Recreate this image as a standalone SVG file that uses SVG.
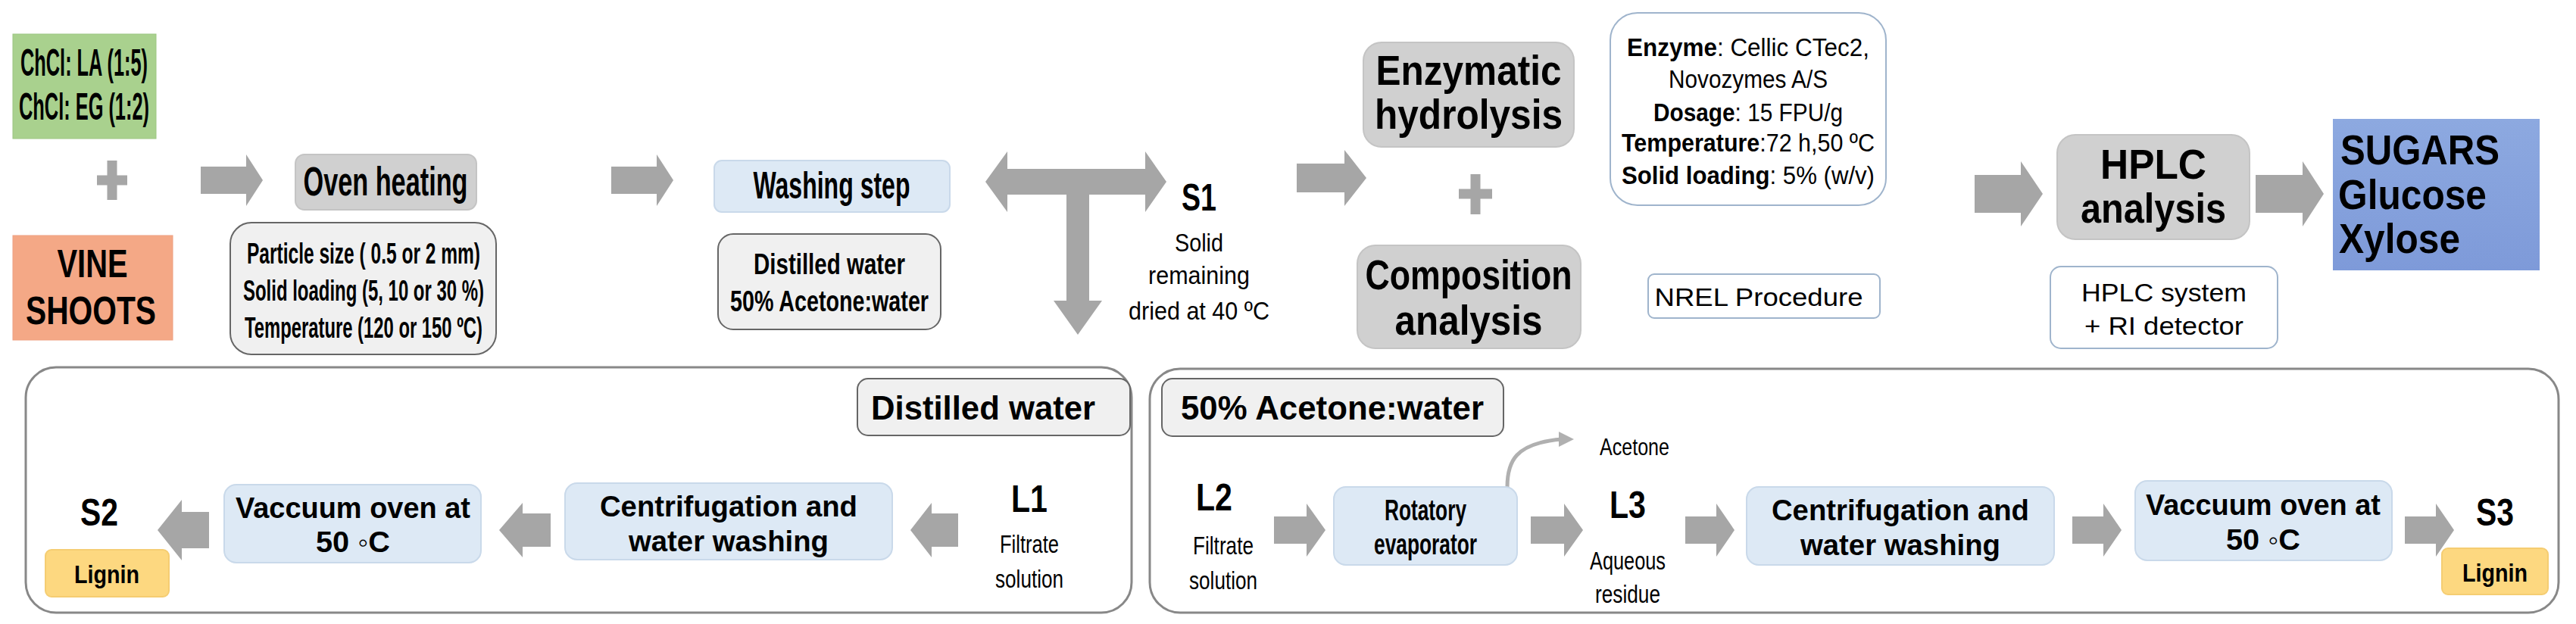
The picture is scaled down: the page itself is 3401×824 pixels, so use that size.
<svg xmlns="http://www.w3.org/2000/svg" width="3401" height="824" viewBox="0 0 3401 824">
<style>
text{font-family:"Liberation Sans",Arial,sans-serif;fill:#000;text-anchor:middle}
.b{font-weight:bold}
.gray{fill:#d0d0d0;stroke:#c4c4c4;stroke-width:2}
.lgray{fill:#f0f0f0;stroke:#666;stroke-width:2}
.blue{fill:#dde9f5;stroke:#c9d9ea;stroke-width:2}
.wht{fill:#fff;stroke:#9fb4cc;stroke-width:2}
.arr{fill:#a6a6a6}
.cont{fill:#fff;stroke:#888;stroke-width:3}
.lig{fill:#fdd880;stroke:#f5cd72;stroke-width:2}
</style>
<rect width="3401" height="824" fill="#fff"/>
<g id="containers">
<rect class="cont" x="34" y="485" width="1460" height="324" rx="40"/>
<rect class="cont" x="1518" y="487" width="1860" height="322" rx="40"/>
</g>
<g id="connectors">
<path d="M148 212 V264 M128 238 H168" stroke="#a6a6a6" stroke-width="13"/>
<polygon class="arr" points="265,220 325,220 325,204 347,238 325,272 325,256 265,256"/>
<polygon class="arr" points="807,220 867,220 867,204 889,238 867,272 867,256 807,256"/>
<polygon class="arr" points="1301,240 1330,200 1330,223 1512,223 1512,200 1540,240 1512,280 1512,257 1438,257 1438,397 1455,397 1423,442 1391,397 1408,397 1408,257 1330,257 1330,280"/>
<polygon class="arr" points="1712,216 1775,216 1775,198 1804,235 1775,272 1775,254 1712,254"/>
<path d="M1948 230 V283 M1926 256 H1970" stroke="#a6a6a6" stroke-width="13"/>
<polygon class="arr" points="2607,231 2668,231 2668,213 2697,256 2668,299 2668,281 2607,281"/>
<polygon class="arr" points="2978,231 3040,231 3040,213 3068,256 3040,299 3040,281 2978,281"/>
<polygon class="arr" points="1265,678 1230,678 1230,664 1202,700 1230,736 1230,722 1265,722"/>
<polygon class="arr" points="727,678 690,678 690,664 659,700 690,736 690,722 727,722"/>
<polygon class="arr" points="276,676 240,676 240,660 208,700 240,740 240,724 276,724"/>
<polygon class="arr" points="1682,682 1725,682 1725,665 1750,700 1725,735 1725,718 1682,718"/>
<polygon class="arr" points="2021,682 2065,682 2065,665 2090,700 2065,735 2065,718 2021,718"/>
<polygon class="arr" points="2225,682 2266,682 2266,665 2290,700 2266,735 2266,718 2225,718"/>
<polygon class="arr" points="2736,682 2777,682 2777,665 2801,700 2777,735 2777,718 2736,718"/>
<polygon class="arr" points="3175,682 3216,682 3216,665 3240,700 3216,735 3216,718 3175,718"/>
<path d="M1990 643 C1990 610 2000 585 2062 580" fill="none" stroke="#b0b0b0" stroke-width="5"/>
<polygon points="2058,570 2078,580 2058,590" fill="#b0b0b0"/>
</g>
<g id="des">
<rect x="17" y="45" width="189" height="138" fill="#a9d18e" stroke="#9cc682"/>
<text class="b" x="111" y="100" font-size="50" textLength="168" lengthAdjust="spacingAndGlyphs">ChCl: LA (1:5)</text>
<text class="b" x="111" y="158" font-size="50" textLength="172" lengthAdjust="spacingAndGlyphs">ChCl: EG (1:2)</text>
</g>
<g id="vine">
<rect x="17" y="311" width="211" height="138" fill="#f4a886" stroke="#eea081"/>
<text class="b" x="122" y="366" font-size="52" textLength="93" lengthAdjust="spacingAndGlyphs">VINE</text>
<text class="b" x="120" y="428" font-size="52" textLength="172" lengthAdjust="spacingAndGlyphs">SHOOTS</text>
</g>
<g id="oven">
<rect class="gray" x="390" y="204" width="239" height="73" rx="12"/>
<text class="b" x="509" y="258" font-size="54" textLength="217" lengthAdjust="spacingAndGlyphs">Oven heating</text>
</g>
<g id="oven-params">
<rect class="lgray" x="304" y="294" width="351" height="174" rx="28"/>
<text class="b" x="480" y="348" font-size="38" textLength="308" lengthAdjust="spacingAndGlyphs">Particle size ( 0.5 or 2 mm)</text>
<text class="b" x="480" y="397" font-size="38" textLength="318" lengthAdjust="spacingAndGlyphs">Solid loading (5, 10 or 30 %)</text>
<text class="b" x="480" y="446" font-size="38" textLength="314" lengthAdjust="spacingAndGlyphs">Temperature (120 or 150 ºC)</text>
</g>
<g id="washing">
<rect class="blue" x="943" y="212" width="311" height="68" rx="10"/>
<text class="b" x="1098" y="262" font-size="50" textLength="207" lengthAdjust="spacingAndGlyphs">Washing step</text>
</g>
<g id="washing-solvents">
<rect class="lgray" x="948" y="309" width="294" height="126" rx="20"/>
<text class="b" x="1095" y="362" font-size="38" textLength="200" lengthAdjust="spacingAndGlyphs">Distilled water</text>
<text class="b" x="1095" y="411" font-size="38" textLength="262" lengthAdjust="spacingAndGlyphs">50% Acetone:water</text>
</g>
<g id="s1">
<text class="b" x="1583" y="278" font-size="50" textLength="46" lengthAdjust="spacingAndGlyphs">S1</text>
<text x="1583" y="332" font-size="34" textLength="64" lengthAdjust="spacingAndGlyphs">Solid</text>
<text x="1583" y="375" font-size="34" textLength="134" lengthAdjust="spacingAndGlyphs">remaining</text>
<text x="1583" y="422" font-size="34" textLength="186" lengthAdjust="spacingAndGlyphs">dried at 40 ºC</text>
</g>
<g id="enzymatic">
<rect class="gray" x="1800" y="56" width="278" height="138" rx="24"/>
<text class="b" x="1939" y="112" font-size="56" textLength="245" lengthAdjust="spacingAndGlyphs">Enzymatic</text>
<text class="b" x="1939" y="170" font-size="56" textLength="248" lengthAdjust="spacingAndGlyphs">hydrolysis</text>
</g>
<g id="enzyme-info">
<rect class="wht" x="2126" y="17" width="364" height="254" rx="36"/>
<text x="2308" y="74" font-size="33" textLength="320" lengthAdjust="spacingAndGlyphs"><tspan class="b">Enzyme</tspan>: Cellic CTec2,</text>
<text x="2308" y="116" font-size="33" textLength="210" lengthAdjust="spacingAndGlyphs">Novozymes A/S</text>
<text x="2308" y="160" font-size="33" textLength="250" lengthAdjust="spacingAndGlyphs"><tspan class="b">Dosage</tspan>: 15 FPU/g</text>
<text x="2308" y="200" font-size="33" textLength="334" lengthAdjust="spacingAndGlyphs"><tspan class="b">Temperature</tspan>:72 h,50 ºC</text>
<text x="2308" y="243" font-size="33" textLength="334" lengthAdjust="spacingAndGlyphs"><tspan class="b">Solid loading</tspan>: 5% (w/v)</text>
</g>
<g id="composition">
<rect class="gray" x="1792" y="324" width="295" height="136" rx="24"/>
<text class="b" x="1939" y="382" font-size="56" textLength="273" lengthAdjust="spacingAndGlyphs">Composition</text>
<text class="b" x="1939" y="442" font-size="56" textLength="195" lengthAdjust="spacingAndGlyphs">analysis</text>
</g>
<g id="nrel">
<rect class="wht" x="2176" y="362" width="306" height="58" rx="8"/>
<text x="2322" y="404" font-size="34" textLength="275" lengthAdjust="spacingAndGlyphs">NREL Procedure</text>
</g>
<g id="hplc">
<rect class="gray" x="2716" y="178" width="254" height="138" rx="24"/>
<text class="b" x="2843" y="236" font-size="56" textLength="140" lengthAdjust="spacingAndGlyphs">HPLC</text>
<text class="b" x="2843" y="294" font-size="56" textLength="192" lengthAdjust="spacingAndGlyphs">analysis</text>
</g>
<g id="hplc-system">
<rect class="wht" x="2707" y="352" width="300" height="108" rx="14"/>
<text x="2857" y="398" font-size="34" textLength="218" lengthAdjust="spacingAndGlyphs">HPLC system</text>
<text x="2857" y="442" font-size="34" textLength="210" lengthAdjust="spacingAndGlyphs">+ RI detector</text>
</g>
<g id="sugars">
<defs><linearGradient id="sg" x1="0" y1="0" x2="0" y2="1"><stop offset="0" stop-color="#8da9e0"/><stop offset="1" stop-color="#7e9ad9"/></linearGradient></defs>
<rect x="3080" y="157" width="273" height="200" fill="url(#sg)"/>
<text class="b" x="3195" y="217" font-size="56" textLength="210" lengthAdjust="spacingAndGlyphs">SUGARS</text>
<text class="b" x="3185" y="276" font-size="56" textLength="196" lengthAdjust="spacingAndGlyphs">Glucose</text>
<text class="b" x="3168" y="334" font-size="56" textLength="160" lengthAdjust="spacingAndGlyphs">Xylose</text>
</g>
<g id="dw-tag">
<rect class="lgray" x="1132" y="500" width="360" height="75" rx="14"/>
<text class="b" x="1298" y="554" font-size="44" textLength="296" lengthAdjust="spacingAndGlyphs">Distilled water</text>
</g>
<g id="l1">
<text class="b" x="1359" y="676" font-size="50" textLength="48" lengthAdjust="spacingAndGlyphs">L1</text>
<text x="1359" y="730" font-size="34" textLength="78" lengthAdjust="spacingAndGlyphs">Filtrate</text>
<text x="1359" y="776" font-size="34" textLength="90" lengthAdjust="spacingAndGlyphs">solution</text>
</g>
<g id="centrif1">
<rect class="blue" x="746" y="638" width="432" height="101" rx="16"/>
<text class="b" x="962" y="682" font-size="38" textLength="340" lengthAdjust="spacingAndGlyphs">Centrifugation and</text>
<text class="b" x="962" y="728" font-size="38" textLength="264" lengthAdjust="spacingAndGlyphs">water washing</text>
</g>
<g id="vacuum1">
<rect class="blue" x="296" y="640" width="339" height="103" rx="16"/>
<text class="b" x="466" y="684" font-size="38" textLength="310" lengthAdjust="spacingAndGlyphs">Vaccuum oven at</text>
<text class="b" x="466" y="729" font-size="38" textLength="98" lengthAdjust="spacingAndGlyphs">50 ◦C</text>
</g>
<g id="s2">
<text class="b" x="131" y="694" font-size="50" textLength="50" lengthAdjust="spacingAndGlyphs">S2</text>
<rect class="lig" x="60" y="726" width="163" height="62" rx="8"/>
<text class="b" x="141" y="770" font-size="34" textLength="86" lengthAdjust="spacingAndGlyphs">Lignin</text>
</g>
<g id="ac-tag">
<rect class="lgray" x="1534" y="500" width="451" height="76" rx="14"/>
<text class="b" x="1759" y="554" font-size="44" textLength="400" lengthAdjust="spacingAndGlyphs">50% Acetone:water</text>
</g>
<g id="acetone"><text x="2158" y="601" font-size="32" textLength="92" lengthAdjust="spacingAndGlyphs">Acetone</text></g>
<g id="l2">
<text class="b" x="1603" y="674" font-size="50" textLength="48" lengthAdjust="spacingAndGlyphs">L2</text>
<text x="1615" y="732" font-size="34" textLength="80" lengthAdjust="spacingAndGlyphs">Filtrate</text>
<text x="1615" y="778" font-size="34" textLength="90" lengthAdjust="spacingAndGlyphs">solution</text>
</g>
<g id="rotatory">
<rect class="blue" x="1761" y="643" width="242" height="103" rx="16"/>
<text class="b" x="1882" y="687" font-size="38" textLength="108" lengthAdjust="spacingAndGlyphs">Rotatory</text>
<text class="b" x="1882" y="732" font-size="38" textLength="136" lengthAdjust="spacingAndGlyphs">evaporator</text>
</g>
<g id="l3">
<text class="b" x="2149" y="684" font-size="50" textLength="48" lengthAdjust="spacingAndGlyphs">L3</text>
<text x="2149" y="752" font-size="34" textLength="100" lengthAdjust="spacingAndGlyphs">Aqueous</text>
<text x="2149" y="796" font-size="34" textLength="86" lengthAdjust="spacingAndGlyphs">residue</text>
</g>
<g id="centrif2">
<rect class="blue" x="2306" y="643" width="406" height="103" rx="16"/>
<text class="b" x="2509" y="687" font-size="38" textLength="340" lengthAdjust="spacingAndGlyphs">Centrifugation and</text>
<text class="b" x="2509" y="733" font-size="38" textLength="264" lengthAdjust="spacingAndGlyphs">water washing</text>
</g>
<g id="vacuum2">
<rect class="blue" x="2819" y="635" width="339" height="105" rx="16"/>
<text class="b" x="2988" y="680" font-size="38" textLength="310" lengthAdjust="spacingAndGlyphs">Vaccuum oven at</text>
<text class="b" x="2988" y="726" font-size="38" textLength="98" lengthAdjust="spacingAndGlyphs">50 ◦C</text>
</g>
<g id="s3">
<text class="b" x="3294" y="694" font-size="50" textLength="50" lengthAdjust="spacingAndGlyphs">S3</text>
<rect class="lig" x="3224" y="724" width="140" height="61" rx="8"/>
<text class="b" x="3294" y="768" font-size="34" textLength="86" lengthAdjust="spacingAndGlyphs">Lignin</text>
</g>
</svg>
